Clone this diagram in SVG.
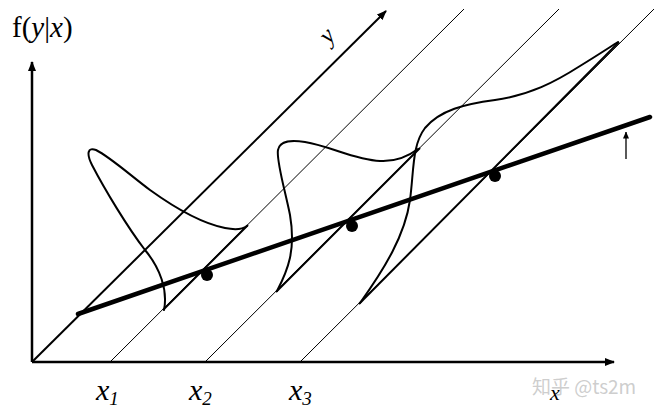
<svg xmlns="http://www.w3.org/2000/svg" width="660" height="416" viewBox="0 0 660 416">
<style>
.t{font-family:"Liberation Serif","Times New Roman",serif;fill:#000}
.i{font-style:italic}
.thin{stroke:#000;stroke-width:1;fill:none}
.base{stroke:#000;stroke-width:2;fill:none}
.curve{stroke:#000;stroke-width:2;fill:none;stroke-linecap:round}
</style>
<defs>
<marker id="ah" markerWidth="10" markerHeight="8" refX="9" refY="4" orient="auto" markerUnits="userSpaceOnUse">
<path d="M0,0 L10,4 L0,8 Z" fill="#000"/>
</marker>
<marker id="ahs" markerWidth="7" markerHeight="6" refX="6.5" refY="3" orient="auto" markerUnits="userSpaceOnUse">
<path d="M0,0 L7,3 L0,6 Z" fill="#000"/>
</marker>
</defs>
<rect width="660" height="416" fill="#fff"/>
<g id="connectors">
<line x1="32" y1="362" x2="32" y2="62" stroke="#000" stroke-width="2.5" marker-end="url(#ah)"/>
<line x1="32" y1="362" x2="614" y2="362" stroke="#000" stroke-width="2.5" marker-end="url(#ah)"/>
<line x1="32" y1="362" x2="386" y2="11" stroke="#000" stroke-width="2" marker-end="url(#ah)"/>
<line class="thin" x1="110" y1="362" x2="464" y2="9"/>
<line class="thin" x1="205" y1="362" x2="559" y2="9"/>
<line class="thin" x1="300" y1="362" x2="654" y2="9"/>
<line class="base" x1="163" y1="310" x2="248" y2="225"/>
<line class="base" x1="276" y1="292" x2="420" y2="148"/>
<line class="base" x1="359" y1="304" x2="619" y2="42"/>
<line x1="78" y1="314" x2="650" y2="117" stroke="#000" stroke-width="4.5" stroke-linecap="round"/>
<line x1="626" y1="159" x2="626" y2="132" stroke="#000" stroke-width="1.3" marker-end="url(#ahs)"/>
</g>
<g id="density1">
<path class="curve" d="M164,310 C168,290 160,268 145,250 C128,228 105,190 92,165 C86,153 88,147 96,150 C110,157 130,175 150,190 C175,208 200,223 225,228 C235,230 243,229 247,226"/>
</g>
<g id="density2">
<path class="curve" d="M277,291 C288,270 296,250 290,215 C285,190 276,160 278,150 C280,140 292,140 305,142 C330,146 355,160 380,161 C398,162 410,155 418,149"/>
</g>
<g id="density3">
<path class="curve" d="M360,303 C385,268 405,235 410,200 C414,170 412,145 425,128 C440,110 465,104 495,100 C530,95 555,82 580,66 C598,55 610,47 618,42"/>
</g>
<g id="points">
<circle cx="207" cy="275" r="6" fill="#000"/>
<circle cx="352" cy="226" r="6" fill="#000"/>
<circle cx="495" cy="176" r="6" fill="#000"/>
</g>
<g id="labels">
<text class="t" x="12" y="37" font-size="29">f(<tspan class="i">y</tspan>|<tspan class="i">x</tspan>)</text>
<text class="t i" font-size="25" transform="translate(329,45) rotate(-48)">y</text>
<text class="t i" x="96" y="400" font-size="30">x<tspan font-size="19" dy="5">1</tspan></text>
<text class="t i" x="189" y="400" font-size="30">x<tspan font-size="19" dy="5">2</tspan></text>
<text class="t i" x="289" y="400" font-size="30">x<tspan font-size="19" dy="5">3</tspan></text>
<text class="t i" x="550" y="400" font-size="22">x</text>
<text x="532" y="394" font-size="19" fill="#c8c8c8" fill-opacity="0.9" font-family="'Noto Sans CJK SC','Noto Sans',sans-serif">知乎 @ts2m</text>
</g>
</svg>
